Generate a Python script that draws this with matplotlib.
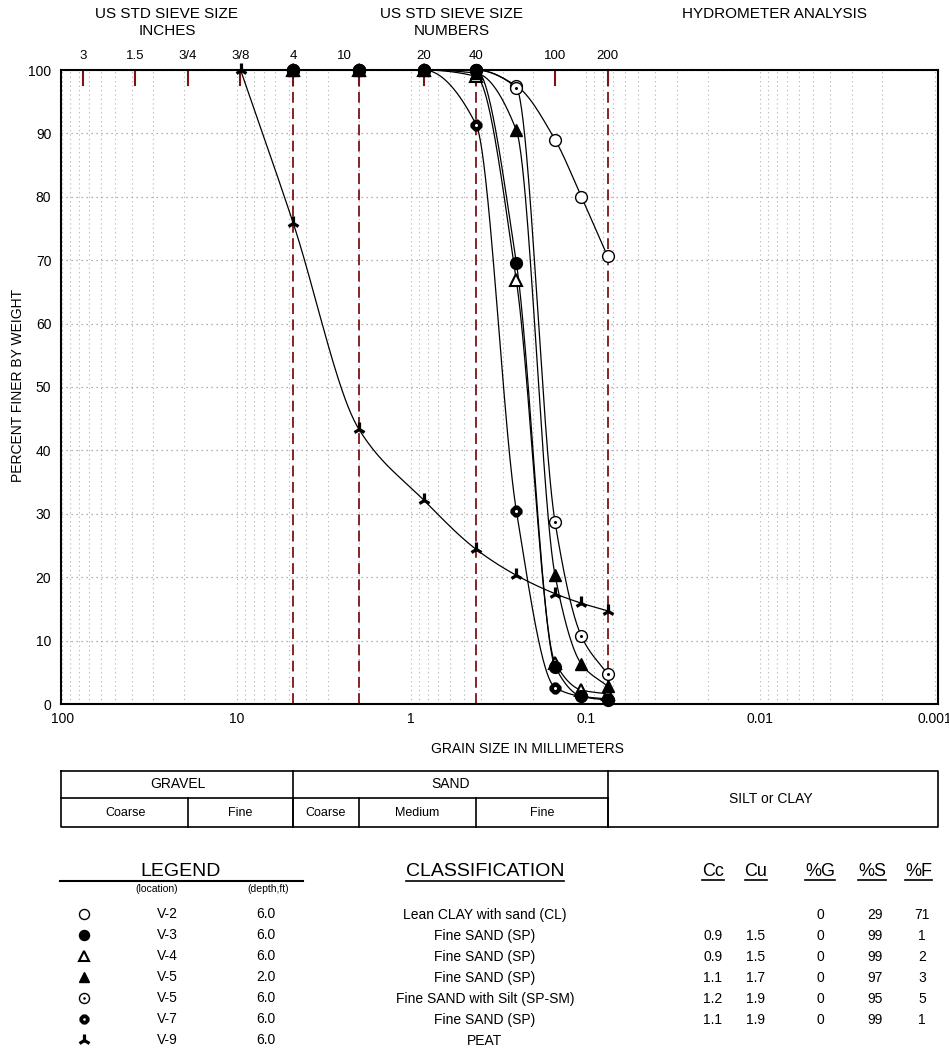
import numpy as np
import matplotlib
matplotlib.use('Agg')
import matplotlib.pyplot as plt
from matplotlib.transforms import blended_transform_factory as blend
from matplotlib.ticker import LogLocator, NullFormatter

plt.rcParams['font.family'] = ['Liberation Sans', 'DejaVu Sans']

# ---------------- data ----------------
nan = float('nan')
sieve_mm = [9.5, 4.75, 2.0, 0.85, 0.425, 0.25, 0.15, 0.106, 0.075]
v2_finer = [nan, 100, 100, 100, 100, 97.5, 89.0, 80.0, 70.6]
v3_finer = [nan, 100, 100, 100, 100, 69.6, 5.9, 1.2, 0.6]
v4_finer = [nan, 100, 100, 100, 99.0, 66.8, 6.5, 2.2, 1.6]
v5a_finer = [nan, 100, 100, 100, 99.5, 90.5, 20.3, 6.3, 2.8]
v5b_finer = [nan, 100, 100, 100, 100, 97.2, 28.7, 10.7, 4.7]
v7_finer = [nan, 100, 100, 100, 91.4, 30.5, 2.6, 1.2, 0.8]
v9_finer = [100, 75.9, 43.4, 32.2, 24.4, 20.3, 17.4, 15.9, 14.7]

locations = ['V-2', 'V-3', 'V-4', 'V-5', 'V-5', 'V-7', 'V-9']
depths = ['6.0', '6.0', '6.0', '2.0', '6.0', '6.0', '6.0']
classifications = ['Lean CLAY with sand (CL)', 'Fine SAND (SP)', 'Fine SAND (SP)',
                   'Fine SAND (SP)', 'Fine SAND with Silt (SP-SM)', 'Fine SAND (SP)', 'PEAT']
cc_values = ['', '0.9', '0.9', '1.1', '1.2', '1.1', '']
cu_values = ['', '1.5', '1.5', '1.7', '1.9', '1.9', '']
gravel_pct = ['0', '0', '0', '0', '0', '0', '']
sand_pct = ['29', '99', '99', '97', '95', '99', '']
fines_pct = ['71', '1', '2', '3', '5', '1', '']

top_sieve_mm = [76.2, 38.1, 19.05, 9.525, 4.75, 2.0, 0.85, 0.425, 0.15, 0.075]
top_sieve_labels = ['3', '1.5', '3/4', '3/8', '4', '10', '20', '40', '100', '200']
boundary_mm = [4.75, 2.0, 0.425, 0.075]
x_ticks_mm = [100, 10, 1, 0.1, 0.01, 0.001]
x_tick_labels = ['100', '10', '1', '0.1', '0.01', '0.001']
y_ticks = list(range(0, 101, 10))

upper_cells = [('GRAVEL', 100, 4.75), ('SAND', 4.75, 0.075)]
lower_cells = [('Coarse', 100, 19.0), ('Fine', 19.0, 4.75), ('Coarse', 4.75, 2.0),
               ('Medium', 2.0, 0.425), ('Fine', 0.425, 0.075)]

series = [v2_finer, v3_finer, v4_finer, v5a_finer, v5b_finer, v7_finer, v9_finer]
series_z = [4.0, 4.6, 4.1, 4.5, 4.2, 4.3, 4.4]

# ---------------- helpers ----------------
def pchip(x, y, xn):
    x = np.asarray(x, float); y = np.asarray(y, float)
    h = np.diff(x); d = np.diff(y) / h
    n = len(x)
    m = np.zeros(n)
    for k in range(1, n - 1):
        if d[k - 1] * d[k] > 0:
            w1 = 2 * h[k] + h[k - 1]; w2 = h[k] + 2 * h[k - 1]
            m[k] = (w1 + w2) / (w1 / d[k - 1] + w2 / d[k])
    m[0] = d[0]; m[-1] = d[-1]
    out = np.empty_like(xn)
    for i, t in enumerate(xn):
        k = min(max(np.searchsorted(x, t) - 1, 0), n - 2)
        s = (t - x[k]) / h[k]
        h00 = 2*s**3 - 3*s**2 + 1; h10 = s**3 - 2*s**2 + s
        h01 = -2*s**3 + 3*s**2; h11 = s**3 - s**2
        out[i] = h00*y[k] + h10*h[k]*m[k] + h01*y[k+1] + h11*h[k]*m[k+1]
    return out

W, H = 949, 1053
DR = '#7a1414'
fig = plt.figure(figsize=(W / 100, H / 100), dpi=100)

ax = fig.add_axes([61 / W, 1 - 704 / H, (938 - 61) / W, (704 - 70) / H])
ax.set_xscale('log')
ax.set_xlim(101.5, 0.00096)
ax.set_ylim(0, 100)
ax.set_xticks(x_ticks_mm)
ax.set_xticklabels(x_tick_labels, fontsize=10)
ax.xaxis.set_minor_locator(LogLocator(base=10, subs=np.arange(2, 10)))
ax.xaxis.set_minor_formatter(NullFormatter())
ax.set_yticks(y_ticks)
ax.set_yticklabels([str(v) for v in y_ticks], fontsize=10)
ax.tick_params(which='both', length=0)
ax.tick_params(axis='x', pad=6)
ax.tick_params(axis='y', pad=7)
ax.grid(axis='x', which='both', ls=(0, (1, 3)), color='#b0b0b0', lw=0.8)
ax.grid(axis='y', which='major', ls=(0, (1, 3)), color='#999999', lw=0.9)
for sp in ax.spines.values():
    sp.set_linewidth(1.5)
ax.set_axisbelow(True)

# class boundaries
for b in boundary_mm:
    ax.axvline(b, color=DR, lw=1.3, ls=(0, (6, 3)), zorder=1.5)
# top sieve ticks
tb = blend(ax.transData, ax.transAxes)
for s in top_sieve_mm:
    ax.plot([s, s], [1.0, 1 - 15 / 634], color=DR, lw=1.5, transform=tb, zorder=1.6)
label_dx = {'10': -14}
for s, lab in zip(top_sieve_mm, top_sieve_labels):
    ax.annotate(lab, xy=(s, 1.0), xycoords=tb, xytext=(label_dx.get(lab, 0), 14),
                textcoords='offset pixels', ha='center', va='center', fontsize=9.5)

# markers
def draw_marker(a, x, y, idx, scale=1.0, **kw):
    ms = 8.5 * scale
    if idx == 0:
        a.plot(x, y, ls='none', marker='o', ms=ms, mfc='white', mec='black', mew=1.0, **kw)
    elif idx == 1:
        a.plot(x, y, ls='none', marker='o', ms=ms, mfc='black', mec='black', **kw)
    elif idx == 2:
        a.plot(x, y, ls='none', marker='^', ms=ms, mfc='white', mec='black', mew=1.5, **kw)
    elif idx == 3:
        a.plot(x, y, ls='none', marker='^', ms=ms, mfc='black', mec='black', **kw)
    elif idx == 4:
        a.plot(x, y, ls='none', marker='o', ms=ms, mfc='white', mec='black', mew=1.0, **kw)
        a.plot(x, y, ls='none', marker='o', ms=2.2 * scale, mfc='black', mec='black', mew=0, **kw)
    elif idx == 5:
        a.plot(x, y, ls='none', marker='8', ms=ms * 0.9, mfc='black', mec='black', mew=1.0, **kw)
        a.plot(x, y, ls='none', marker='+', ms=ms * 1.0, mec='black', mew=2.5, **kw)
        a.plot(x, y, ls='none', marker='o', ms=2.2 * scale, mfc='white', mec='white', mew=0, **kw)
    elif idx == 6:
        a.plot(x, y, ls='none', marker='2', ms=ms * 1.15, mec='black', mew=2.3, **kw)

t_all = -np.log10(np.asarray(sieve_mm))
for idx, vals in enumerate(series):
    v = np.asarray(vals, float)
    ok = ~np.isnan(v)
    t = t_all[ok]; yv = v[ok]
    tn = np.linspace(t[0], t[-1], 400)
    yn = np.clip(pchip(t, yv, tn), 0, 100)
    ax.plot(10 ** (-tn), yn, color='black', lw=0.9, zorder=3, clip_on=False)
    draw_marker(ax, np.asarray(sieve_mm)[ok], yv, idx, zorder=series_z[idx], clip_on=False)

# ---------------- overlay (pixel coords) ----------------
ov = fig.add_axes([0, 0, 1, 1], zorder=-1)
ov.set_xlim(0, W); ov.set_ylim(H, 0); ov.axis('off')
ov.patch.set_alpha(0)

def txt(x, y, s, fs=10, ha='center', **kw):
    return ov.text(x, y, s, fontsize=fs, ha=ha, va='center', **kw)

txt(167, 14, 'US STD SIEVE SIZE', 11)
txt(167, 31, 'INCHES', 11)
txt(452, 14, 'US STD SIEVE SIZE', 11)
txt(452, 31, 'NUMBERS', 11)
txt(775, 14, 'HYDROMETER ANALYSIS', 11)
txt(18, 385, 'PERCENT FINER BY WEIGHT', 10, rotation=90)
txt(527, 749, 'GRAIN SIZE IN MILLIMETERS', 10)

# soil class table
bt = blend(ax.transData, ov.transData)
xr = ax.get_xlim()[1]
xl = ax.get_xlim()[0]
ty0, tym, ty1 = 771, 798, 827
kw = dict(color='black', lw=1.2, transform=bt, clip_on=False)
ov.plot([xl, xr, xr, xl, xl], [ty0, ty0, ty1, ty1, ty0], **kw)
ov.plot([xl, 0.075], [tym, tym], **kw)
for lab, a, b in upper_cells:
    ov.plot([b, b], [ty0, ty1], **kw)
    ov.text(np.sqrt(a * b), (ty0 + tym) / 2, lab, fontsize=10, ha='center', va='center', transform=bt)
for lab, a, b in lower_cells:
    ov.text(np.sqrt(a * b), (tym + ty1) / 2, lab, fontsize=9, ha='center', va='center', transform=bt)
    ov.plot([b, b], [tym, ty1], **kw)
ov.text(np.sqrt(0.075 * 0.001), (ty0 + ty1) / 2, 'SILT or CLAY', fontsize=10, ha='center', va='center', transform=bt)

# legend block
fig.canvas.draw()
r = fig.canvas.get_renderer()

def underlined(x, y, s, fs):
    t = txt(x, y, s, fs)
    bb = t.get_window_extent(renderer=r)
    ov.plot([bb.x0, bb.x1], [y + fs * 0.62, y + fs * 0.62], color='black', lw=1.2)
    return t

txt(181, 871, 'LEGEND', 14)
ov.plot([60, 303], [881, 881], color='black', lw=1.5)
txt(157, 889, '(location)', 7.5)
txt(268, 889, '(depth,ft)', 7.5)
underlined(485, 872, 'CLASSIFICATION', 14)
for x, s in [(713, 'Cc'), (756, 'Cu'), (820, '%G'), (872, '%S'), (919, '%F')]:
    underlined(x, 872, s, 13)

row_y = [914, 935, 956, 977, 998, 1019, 1040]
for i, y in enumerate(row_y):
    draw_marker(ov, [84], [y], i, scale=0.85)
    txt(167, y, locations[i], 10)
    txt(266, y, depths[i], 10)
    txt(485, y + 1, classifications[i], 10)
    txt(713, y + 1, cc_values[i], 10)
    txt(756, y + 1, cu_values[i], 10)
    txt(820, y + 1, gravel_pct[i], 10)
    txt(875, y + 1, sand_pct[i], 10)
    txt(922, y + 1, fines_pct[i], 10)

fig.savefig('out.png', dpi=100)
